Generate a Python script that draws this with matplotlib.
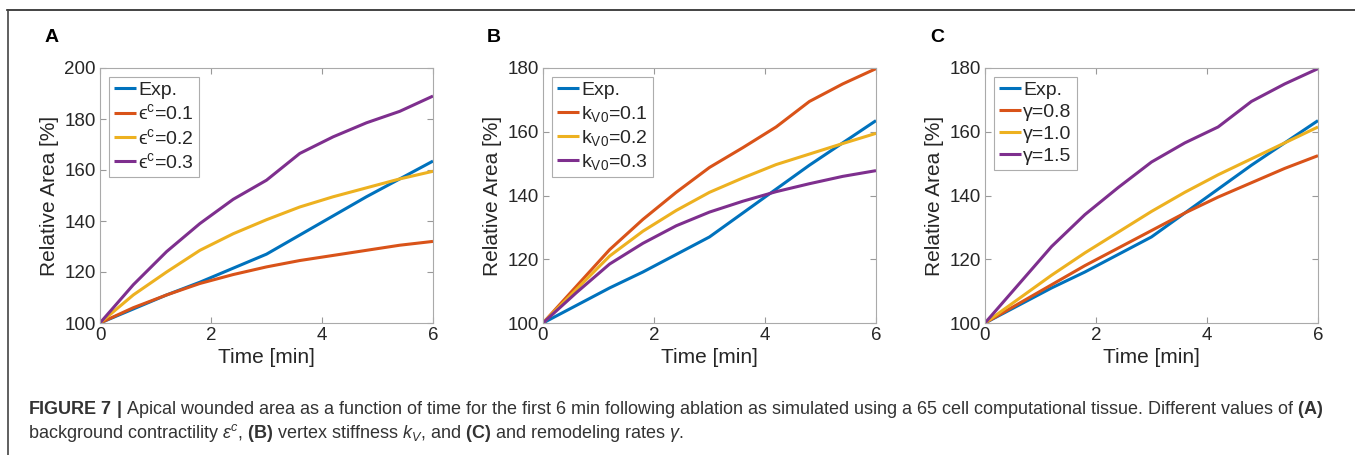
import matplotlib
matplotlib.use("Agg")
import matplotlib.pyplot as plt
from matplotlib.lines import Line2D

plt.rcParams['font.family'] = ['Liberation Sans', 'DejaVu Sans']
plt.rcParams['mathtext.fontset'] = 'custom'
plt.rcParams['mathtext.rm'] = 'Liberation Sans'
plt.rcParams['mathtext.it'] = 'Liberation Sans:italic'
plt.rcParams['mathtext.bf'] = 'Liberation Sans:bold'

# ====== DATA ======
time = [0, 0.6, 1.2, 1.8, 2.4, 3.0, 3.6, 4.2, 4.8, 5.4, 6.0]
exp_area = [100, 105.5, 111, 116, 121.5, 127, 134.5, 142, 149.5, 156.5, 163.5]

# Panel A: background contractility
eps_01 = [100, 106, 111, 115.5, 119, 122, 124.5, 126.5, 128.5, 130.5, 132]
eps_02 = [100, 111, 120, 128.5, 135, 140.5, 145.5, 149.5, 153, 156.5, 159.5]
eps_03 = [100, 115, 128, 139, 148.5, 156, 166.5, 173, 178.5, 183, 189]

# Panel B: vertex stiffness
kv_01 = [100, 111.5, 123, 132.5, 141, 148.8, 155, 161.5, 169.5, 175, 179.8]
kv_02 = [100, 110.5, 121, 128.8, 135.3, 141, 145.5, 149.7, 153, 156.3, 159.5]
kv_03 = [100, 109.5, 118.5, 125, 130.5, 134.8, 138.2, 141.2, 143.7, 146, 147.8]

# Panel C: remodeling rate
gam_08 = [100, 106, 112, 118, 123.5, 129, 134.5, 139.5, 144, 148.5, 152.5]
gam_10 = [100, 107.5, 115, 122, 128.5, 135, 141, 146.5, 151.5, 156.5, 161.5]
gam_15 = [100, 112, 124, 134, 142.5, 150.5, 156.5, 161.5, 169.5, 175, 179.8]

panel_letters = ['A', 'B', 'C']
legend_labels = [
    ['Exp.', r'ϵ$^{\rm c}$=0.1', r'ϵ$^{\rm c}$=0.2', r'ϵ$^{\rm c}$=0.3'],
    ['Exp.', r'k$_{\rm V0}$=0.1', r'k$_{\rm V0}$=0.2', r'k$_{\rm V0}$=0.3'],
    ['Exp.', 'γ=0.8', 'γ=1.0', 'γ=1.5'],
]
series = [
    [exp_area, eps_01, eps_02, eps_03],
    [exp_area, kv_01, kv_02, kv_03],
    [exp_area, gam_08, gam_10, gam_15],
]
y_limits = [(100, 200), (100, 180), (100, 180)]
y_ticks = [[100, 120, 140, 160, 180, 200], [100, 120, 140, 160, 180], [100, 120, 140, 160, 180]]
x_ticks = [0, 2, 4, 6]

colors = [(0, 0.447, 0.741), (0.85, 0.325, 0.098), (0.929, 0.694, 0.125), (0.494, 0.184, 0.556)]

# ====== PLOT ======
W, H = 1355, 455
fig = plt.figure(figsize=(W / 100, H / 100), dpi=100)

lefts = [100, 543, 985]
ax_w = 333
ax_top, ax_bot = 68, 323
letter_x = [45, 487, 930]

for i in range(3):
    ax = fig.add_axes([lefts[i] / W, 1 - ax_bot / H, ax_w / W, (ax_bot - ax_top) / H])
    for s, c, lab in zip(series[i], colors, legend_labels[i]):
        ax.plot(time, s, color=c, lw=2.2, label=lab, solid_capstyle='butt')
    ax.set_xlim(0, 6)
    ax.set_ylim(*y_limits[i])
    ax.set_xticks(x_ticks)
    ax.set_yticks(y_ticks[i])
    ax.tick_params(direction='in', top=True, right=True, length=4, width=0.8,
                   color='#999999', labelsize=13.5, labelcolor='#262626', pad=3)
    for sp in ax.spines.values():
        sp.set_color('#aaaaaa')
        sp.set_linewidth(0.8)
    ax.set_xlabel('Time [min]', fontsize=15, color='#262626', labelpad=3)
    ax.set_ylabel('Relative Area [%]', fontsize=15, color='#262626', labelpad=4)
    leg = ax.legend(loc='upper left', fontsize=14, handlelength=1.15, handletextpad=0.12,
                    labelspacing=0.22, borderpad=0.25, borderaxespad=0.45, fancybox=False)
    leg.get_frame().set_edgecolor('#999999')
    leg.get_frame().set_linewidth(0.8)
    for t in leg.get_texts():
        t.set_color('#262626')
    fig.text(letter_x[i] / W, 1 - 38 / H, panel_letters[i], fontsize=14, fontweight='bold',
             va='center', ha='left')

# figure frame (top and left rule)
fig.add_artist(Line2D([7 / W, 1.0], [1 - 10 / H, 1 - 10 / H], color='#222222', lw=1.2,
                      transform=fig.transFigure))
fig.add_artist(Line2D([8 / W, 8 / W], [1 - 10 / H, 0], color='#444444', lw=1.2,
                      transform=fig.transFigure))

caption1 = (r"$\bf{FIGURE\ 7\ |}$ Apical wounded area as a function of time for the first 6 min "
            r"following ablation as simulated using a 65 cell computational tissue. Different values of $\bf{(A)}$")
caption2 = (r"background contractility $\it{\varepsilon}^{c}$, $\bf{(B)}$ vertex stiffness $\it{k}_{V}$, "
            r"and $\bf{(C)}$ and remodeling rates $\it{\gamma}$.")
fig.text(28 / W, 1 - 409 / H, caption1, fontsize=12.95, color='#333333', va='center', ha='left')
fig.text(28 / W, 1 - 433 / H, caption2, fontsize=12.95, color='#333333', va='center', ha='left')

fig.savefig('out.png', dpi=100)
